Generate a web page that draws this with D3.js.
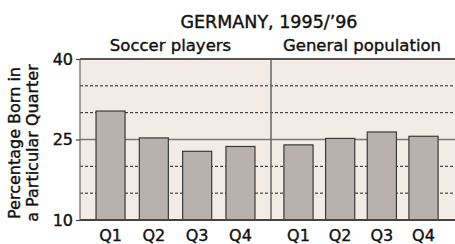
<!DOCTYPE html>
<html><head><meta charset="utf-8">
<script src="https://cdn.jsdelivr.net/npm/d3@7"></script>
<style>
html,body{margin:0;padding:0;background:#fff;}
svg{display:block;font-family:"DejaVu Sans",sans-serif;}
svg text{stroke:#111;stroke-width:0.4px;fill:#111;}
</style></head>
<body>
<svg id="chart" width="455" height="244"></svg>
<script>
const quarters = ["Q1","Q2","Q3","Q4"];
const soccerPlayers = [30.3, 25.3, 22.8, 23.7];
const generalPopulation = [24.0, 25.2, 26.4, 25.6];
const panelTitles = ["Soccer players","General population"];
const yTickLabels = [10, 25, 40];
const dashedLines = [15, 20, 30, 35];
const chartTitle = "GERMANY, 1995/\u201996";

(function(){
const svg = d3.select("#chart");
const pLeft = 80, pTop = 59, pBottom = 220, divider = 271, pRight = 455;
const y = d3.scaleLinear().domain([10,40]).range([pBottom, pTop]);
const x1 = d3.scaleBand().domain(quarters).range([pLeft, divider]).paddingInner(0.33).paddingOuter(0.37);
const x2 = d3.scaleBand().domain(quarters).range([divider, 451]).paddingInner(0.3).paddingOuter(0.31);

svg.append("rect").attr("x", pLeft).attr("y", pTop).attr("width", pRight-pLeft).attr("height", pBottom-pTop).attr("fill", "#f2ebe6");

svg.selectAll(".dash").data(dashedLines).enter().append("line")
  .attr("x1", pLeft).attr("x2", pRight).attr("y1", d=>y(d)).attr("y2", d=>y(d))
  .attr("stroke", "#222").attr("stroke-width", 1).attr("stroke-dasharray", "3,2");
svg.append("line").attr("x1", pLeft).attr("x2", pRight).attr("y1", y(25)).attr("y2", y(25))
  .attr("stroke", "#777").attr("stroke-width", 1.5);

svg.append("line").attr("x1", divider).attr("x2", divider).attr("y1", pTop).attr("y2", pBottom)
  .attr("stroke", "#666").attr("stroke-width", 1.5);

function bars(data, xs){
  svg.append("g").selectAll("rect").data(data).enter().append("rect")
    .attr("x", (d,i)=>xs(quarters[i])).attr("width", xs.bandwidth())
    .attr("y", d=>y(d)).attr("height", d=>y(10)-y(d))
    .attr("fill", "#b9b1ae").attr("stroke", "#3a3a3a").attr("stroke-width", 1.2);
}
bars(soccerPlayers, x1);
bars(generalPopulation, x2);

svg.append("line").attr("x1", pLeft).attr("x2", pRight).attr("y1", pTop).attr("y2", pTop).attr("stroke", "#555").attr("stroke-width", 2);
svg.append("line").attr("x1", pLeft).attr("x2", pRight).attr("y1", pBottom).attr("y2", pBottom).attr("stroke", "#444").attr("stroke-width", 2);
svg.append("line").attr("x1", pLeft).attr("x2", pLeft).attr("y1", pTop).attr("y2", pBottom).attr("stroke", "#666").attr("stroke-width", 1.2);

const yAxis = d3.axisLeft(y).tickValues(yTickLabels).tickSize(4).tickPadding(3);
const ga = svg.append("g").attr("transform", `translate(${pLeft},0)`).call(yAxis);
ga.select(".domain").remove();
ga.selectAll(".tick line").attr("stroke", "#444").attr("stroke-width", 1.2);
ga.selectAll(".tick text").attr("font-size", 16).attr("font-family", "DejaVu Sans").attr("fill", "#111");

function xlabels(xs){
  const ax = d3.axisBottom(xs).tickSize(0).tickPadding(10);
  const g = svg.append("g").attr("transform", `translate(0,${pBottom})`).call(ax);
  g.select(".domain").remove();
  g.selectAll(".tick text").attr("font-size", 16).attr("font-family", "DejaVu Sans").attr("fill", "#111");
}
xlabels(x1); xlabels(x2);

svg.append("text").attr("x", 269).attr("y", 28).attr("text-anchor", "middle").attr("font-size", 17.5).text(chartTitle);
svg.append("text").attr("x", 170.5).attr("y", 50.5).attr("text-anchor", "middle").attr("font-size", 16.5).text(panelTitles[0]);
svg.append("text").attr("x", 362).attr("y", 50.5).attr("text-anchor", "middle").attr("font-size", 16.5).text(panelTitles[1]);

const yl = svg.append("text").attr("transform", "translate(20,143) rotate(-90)").attr("text-anchor", "middle").attr("font-size", 16);
yl.append("tspan").attr("x", 0).attr("y", 0).text("Percentage Born in");
yl.append("tspan").attr("x", 0).attr("y", 17.5).text("a Particular Quarter");
})();
</script>
</body></html>
